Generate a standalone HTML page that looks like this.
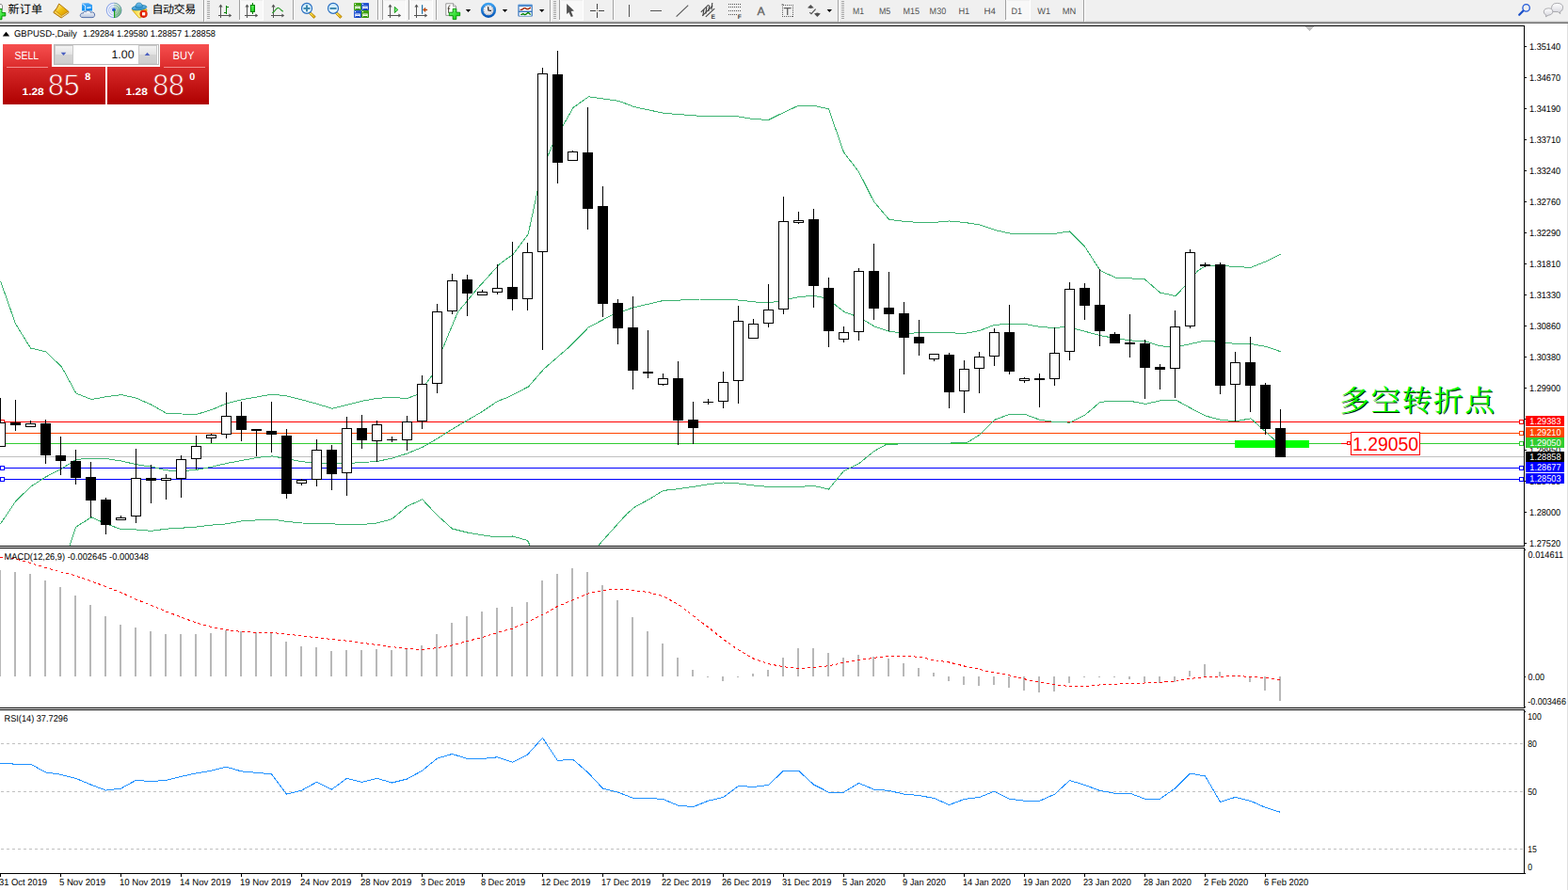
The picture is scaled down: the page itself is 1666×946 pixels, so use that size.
<!DOCTYPE html>
<html><head><meta charset="utf-8"><title>GBPUSD Daily</title>
<style>html,body{margin:0;padding:0;background:#fff;}body{width:1666px;height:946px;overflow:hidden;position:relative;font-family:"Liberation Sans",sans-serif;}svg text{font-family:"Liberation Sans",sans-serif;}</style>
</head><body>
<svg width="1666" height="946" viewBox="0 0 1666 946" font-family="Liberation Sans, sans-serif" style="position:absolute;left:0;top:0;text-rendering:geometricPrecision">
<defs>
<linearGradient id="gTab" x1="0" y1="0" x2="0" y2="1"><stop offset="0" stop-color="#f64f4f"/><stop offset="1" stop-color="#dc2c2c"/></linearGradient>
<linearGradient id="gLow" x1="0" y1="0" x2="0" y2="1"><stop offset="0" stop-color="#d82a2a"/><stop offset="1" stop-color="#ae0000"/></linearGradient>
<linearGradient id="gLowU" gradientUnits="userSpaceOnUse" x1="0" y1="71" x2="0" y2="111"><stop offset="0" stop-color="#d82a2a"/><stop offset="1" stop-color="#ae0000"/></linearGradient>
<linearGradient id="gBtn" x1="0" y1="0" x2="0" y2="1"><stop offset="0" stop-color="#f4f4f4"/><stop offset="0.5" stop-color="#e2e2e2"/><stop offset="0.5" stop-color="#d4d4d4"/><stop offset="1" stop-color="#cfcfcf"/></linearGradient>
</defs>
<rect x="0" y="0" width="1666" height="946" fill="#fff" />
<rect x="0" y="0" width="1666" height="23" fill="#f0f0f0" />
<rect x="0" y="22" width="1666" height="1" fill="#dcdcdc" />
<rect x="0" y="23" width="1666" height="1" fill="#a9a9a9" />
<rect x="0" y="24" width="1666" height="1" fill="#696969" />
<rect x="0" y="25" width="1666" height="2" fill="#fff" />
<defs>
<linearGradient id="gGreen" x1="0" y1="0" x2="1" y2="1"><stop offset="0" stop-color="#7dff7d"/><stop offset="1" stop-color="#00c400"/></linearGradient>
<linearGradient id="gBook" x1="0" y1="0" x2="1" y2="1"><stop offset="0" stop-color="#fff0a0"/><stop offset="0.45" stop-color="#f0c010"/><stop offset="1" stop-color="#d89000"/></linearGradient>
<linearGradient id="gCloud" x1="0" y1="0" x2="0" y2="1"><stop offset="0" stop-color="#ffffff"/><stop offset="1" stop-color="#b8c4dc"/></linearGradient>
<linearGradient id="gBox" x1="0" y1="0" x2="0" y2="1"><stop offset="0" stop-color="#4aa8f8"/><stop offset="1" stop-color="#0a8cf0"/></linearGradient>
<linearGradient id="gSig" x1="0" y1="0" x2="1" y2="1"><stop offset="0" stop-color="#eef6ee"/><stop offset="0.45" stop-color="#b8dcb8"/><stop offset="1" stop-color="#2e9a38"/></linearGradient>
<linearGradient id="gHat" x1="0" y1="0" x2="0" y2="1"><stop offset="0" stop-color="#7cc4ec"/><stop offset="1" stop-color="#2a90d0"/></linearGradient>
<linearGradient id="gYel" x1="0" y1="0" x2="1" y2="0"><stop offset="0" stop-color="#f4c820"/><stop offset="0.5" stop-color="#fff080"/><stop offset="1" stop-color="#f0c020"/></linearGradient>
<radialGradient id="gRed" cx="0.6" cy="0.4" r="0.7"><stop offset="0" stop-color="#ff4010"/><stop offset="1" stop-color="#c81000"/></radialGradient>
<linearGradient id="gLens" x1="0" y1="0" x2="0" y2="1"><stop offset="0" stop-color="#c8e8fc"/><stop offset="1" stop-color="#eefaff"/></linearGradient>
<linearGradient id="gGold" x1="0" y1="0" x2="1" y2="0"><stop offset="0" stop-color="#fff060"/><stop offset="1" stop-color="#d8a000"/></linearGradient>
<linearGradient id="gTG" x1="0" y1="0" x2="1" y2="1"><stop offset="0" stop-color="#4aae18"/><stop offset="1" stop-color="#2e8c08"/></linearGradient>
<linearGradient id="gTB" x1="0" y1="0" x2="1" y2="1"><stop offset="0" stop-color="#3468e0"/><stop offset="1" stop-color="#0c38b8"/></linearGradient>
<linearGradient id="gClock" x1="0" y1="0" x2="0" y2="1"><stop offset="0" stop-color="#3aa0f0"/><stop offset="1" stop-color="#0858b8"/></linearGradient>
<linearGradient id="gFace" x1="0" y1="0" x2="1" y2="1"><stop offset="0" stop-color="#ffffff"/><stop offset="1" stop-color="#d0d0d8"/></linearGradient>
<linearGradient id="gTpl" x1="0" y1="0" x2="0" y2="1"><stop offset="0" stop-color="#6ea6e0"/><stop offset="0.2" stop-color="#3878c0"/><stop offset="1" stop-color="#3070b8"/></linearGradient>
<linearGradient id="gBub" x1="0" y1="0" x2="0" y2="1"><stop offset="0" stop-color="#ffffff"/><stop offset="1" stop-color="#d4d4dc"/></linearGradient>
</defs>
<path d="M-1,4.5 L1.5,4.5 L2.5,6 L2.5,10 L-1,10 Z" fill="#fff" stroke="#8c8c8c" stroke-width="1"/>
<path d="M-1,9.5 L2,9.5 L2,13.5 L5.8,13.5 L5.8,17 L2,17 L2,20.7 L-1,20.7 Z" fill="url(#gGreen)" stroke="#008c00" stroke-width="0.9"/>
<text x="8.6" y="14" font-size="12.1" fill="#000" style="font-family:'Liberation Sans','Noto Sans CJK SC',sans-serif" textLength="36.5" lengthAdjust="spacing">新订单</text>
<path d="M62.7,4 L72.8,12.2 L72.9,13.6 L65.1,19 L56.9,13.4 L57.2,12.4 Q60.6,9 62.7,4 Z" fill="#d8a020" stroke="#a86c00" stroke-width="0.9" stroke-linejoin="round"/>
<path d="M65.4,16.7 L72.3,12.4 L72.5,13.5 L65.2,18.4 Z" fill="#ece0a8"/>
<path d="M59.2,11.5 L65.4,16.7 L65.2,18.3 L57.6,13.2 Z" fill="#f6d050"/>
<path d="M62.9,4.7 L72.2,12.3 L65.4,16.6 L59.3,11.4 Q61.7,8.4 62.9,4.7 Z" fill="url(#gBook)"/>
<path d="M59.3,11.5 L65.4,16.7 L72.2,12.4" stroke="#b87c08" stroke-width="0.6" fill="none"/>
<path d="M87,3.6 L94,3.2 L98,5.2 L98,11.5 L87,11.5 Z" fill="url(#gBox)"/>
<path d="M87.3,4.0 L90.6,6.0 L90.6,11.2" stroke="#e8f6ff" stroke-width="0.9" fill="none"/>
<path d="M92.3,8.4 L96.6,7.9" stroke="#fff" stroke-width="1.1" fill="none"/>
<path d="M88,18.6 C85.4,18.6 84.8,16.6 85.5,15.4 C86,14.2 87.2,13.8 88.4,14.1 C88.5,12.5 90.2,11.9 91.3,12.7 C92.2,10.8 95.8,10.7 96.5,13.4 C97.8,12.5 100.2,13 100.5,15 C101,17 100,18.6 98,18.6 Z" fill="url(#gCloud)" stroke="#4866a4" stroke-width="0.9"/>
<circle cx="121" cy="10.9" r="8" fill="#fbfcff"/>
<path d="M121,10.9 L121,19 A8.1,8.1 0 0 0 129.1,10.9 A8.1,8.1 0 0 0 121,2.8 Z" fill="url(#gSig)" opacity="0.9"/>
<path d="M121,18.6 A7.7,7.7 0 0 1 121,3.2" fill="none" stroke="#3c68d8" stroke-width="1.1" opacity="0.5599999999999999"/>
<path d="M121,3.2 A7.7,7.7 0 0 1 121.6,18.6" fill="none" stroke="#2a6a9a" stroke-width="1" opacity="0.6000000000000001"/>
<path d="M121,16.3 A5.4,5.4 0 0 1 121,5.5" fill="none" stroke="#3c68d8" stroke-width="1.1" opacity="0.42"/>
<path d="M121,5.5 A5.4,5.4 0 0 1 121.6,16.3" fill="none" stroke="#2a6a9a" stroke-width="1" opacity="0.44999999999999996"/>
<path d="M121,14.2 A3.3,3.3 0 0 1 121,7.6000000000000005" fill="none" stroke="#3c68d8" stroke-width="1.1" opacity="0.315"/>
<path d="M121,7.6000000000000005 A3.3,3.3 0 0 1 121.6,14.2" fill="none" stroke="#2a6a9a" stroke-width="1" opacity="0.3375"/>
<circle cx="121" cy="10.6" r="2" fill="#2458d0"/>
<rect x="121" y="11" width="1.2" height="8" fill="#18a018" />
<path d="M140.3,10.5 L155.9,9.8 L155.9,12 L149.6,18.9 L147.6,18.9 Z" fill="url(#gYel)" stroke="#d0a000" stroke-width="0.8" stroke-linejoin="round"/>
<ellipse cx="148" cy="8.2" rx="7.9" ry="2.5" fill="url(#gHat)" stroke="#1878a8" stroke-width="0.8" transform="rotate(-7 148 8.2)"/>
<path d="M144,8 Q144,3 147.7,3 Q151.4,3 151.4,7.6 Q147.7,9.4 144,8 Z" fill="url(#gHat)" stroke="#1878a8" stroke-width="0.7"/>
<circle cx="152.6" cy="14.8" r="4.1" fill="url(#gRed)"/>
<rect x="151" y="13.2" width="3.2" height="3.2" fill="#fff" />
<text x="161.4" y="14.3" font-size="12" fill="#000" style="font-family:'Liberation Sans','Noto Sans CJK SC',sans-serif" textLength="46.8" lengthAdjust="spacing">自动交易</text>
<rect x="216" y="0" width="1" height="24" fill="#a0a0a0" shape-rendering="crispEdges"/>
<rect x="217" y="0" width="1" height="23" fill="#ffffff" shape-rendering="crispEdges"/>
<rect x="220" y="1" width="3" height="1" fill="#a6a6a6" shape-rendering="crispEdges"/>
<rect x="220" y="3" width="3" height="1" fill="#a6a6a6" shape-rendering="crispEdges"/>
<rect x="220" y="5" width="3" height="1" fill="#a6a6a6" shape-rendering="crispEdges"/>
<rect x="220" y="7" width="3" height="1" fill="#a6a6a6" shape-rendering="crispEdges"/>
<rect x="220" y="9" width="3" height="1" fill="#a6a6a6" shape-rendering="crispEdges"/>
<rect x="220" y="11" width="3" height="1" fill="#a6a6a6" shape-rendering="crispEdges"/>
<rect x="220" y="13" width="3" height="1" fill="#a6a6a6" shape-rendering="crispEdges"/>
<rect x="220" y="15" width="3" height="1" fill="#a6a6a6" shape-rendering="crispEdges"/>
<rect x="220" y="17" width="3" height="1" fill="#a6a6a6" shape-rendering="crispEdges"/>
<rect x="220" y="19" width="3" height="1" fill="#a6a6a6" shape-rendering="crispEdges"/>
<g shape-rendering="crispEdges" fill="#555555">
<rect x="234" y="6" width="1" height="13" fill="#555555" />
<rect x="232" y="16" width="13" height="1" fill="#555555" />
</g>
<path d="M234.5,4.6 L236.6,7.4 L232.4,7.4 Z" fill="#555555"/>
<path d="M246.2,16.5 L243.4,14.4 L243.4,18.6 Z" fill="#555555"/>
<g shape-rendering="crispEdges" fill="#008000">
<rect x="240" y="6" width="1" height="9" fill="#008000" />
<rect x="241" y="7" width="2" height="1" fill="#008000" />
<rect x="238" y="13" width="2" height="1" fill="#008000" />
</g>
<rect x="254" y="0" width="1" height="21" fill="#a0a0a0" shape-rendering="crispEdges"/>
<rect x="255" y="0" width="1" height="21" fill="#ffffff" shape-rendering="crispEdges"/>
<rect x="255" y="1" width="24" height="20" fill="#f8f8f8" shape-rendering="crispEdges"/>
<rect x="279" y="0" width="1" height="22" fill="#ffffff" shape-rendering="crispEdges"/>
<rect x="254" y="21" width="26" height="1" fill="#ffffff" shape-rendering="crispEdges"/>
<g shape-rendering="crispEdges" fill="#555555">
<rect x="262" y="6" width="1" height="13" fill="#555555" />
<rect x="260" y="16" width="13" height="1" fill="#555555" />
</g>
<path d="M262.5,4.6 L264.6,7.4 L260.4,7.4 Z" fill="#555555"/>
<path d="M274.2,16.5 L271.4,14.4 L271.4,18.6 Z" fill="#555555"/>
<g shape-rendering="crispEdges">
<rect x="268" y="3" width="1" height="12" fill="#008000" />
</g>
<rect x="266.5" y="5.5" width="4" height="7" fill="url(#gGreen)" stroke="#008000" stroke-width="1" shape-rendering="crispEdges"/>
<g shape-rendering="crispEdges" fill="#555555">
<rect x="290" y="6" width="1" height="13" fill="#555555" />
<rect x="288" y="16" width="13" height="1" fill="#555555" />
</g>
<path d="M290.5,4.6 L292.6,7.4 L288.4,7.4 Z" fill="#555555"/>
<path d="M302.2,16.5 L299.4,14.4 L299.4,18.6 Z" fill="#555555"/>
<path d="M289.2,13.7 Q291.5,12.5 293,10.2 Q294.8,8.0 296,8.5 Q297.5,9.2 298.8,10.8 Q300,11.9 300.8,12.1" fill="none" stroke="#2e9e2e" stroke-width="1.2"/>
<rect x="311" y="0" width="1" height="21" fill="#a0a0a0" shape-rendering="crispEdges"/>
<rect x="312" y="0" width="1" height="21" fill="#ffffff" shape-rendering="crispEdges"/>
<path d="M330.2,13.0 L335.2,17.6 L333.4,19.4 L328.6,14.6 Z" fill="url(#gGold)" stroke="#b07800" stroke-width="0.8"/>
<circle cx="326" cy="8.9" r="5.5" fill="url(#gLens)" stroke="#2a6fc0" stroke-width="1.2"/>
<rect x="322.5" y="8" width="7" height="1.9" fill="#3a86ad"/>
<rect x="325.05" y="5.4" width="1.9" height="7" fill="#3a86ad"/>
<path d="M358.2,13.0 L363.2,17.6 L361.4,19.4 L356.6,14.6 Z" fill="url(#gGold)" stroke="#b07800" stroke-width="0.8"/>
<circle cx="354" cy="8.9" r="5.5" fill="url(#gLens)" stroke="#2a6fc0" stroke-width="1.2"/>
<rect x="350.5" y="8" width="7" height="1.9" fill="#3a86ad"/>
<rect x="376" y="3" width="8" height="8" rx="0.8" fill="url(#gTG)"/>
<rect x="377" y="4" width="1" height="1" fill="#fff" />
<path d="M377.3,9.8 L377.3,6.4 L382.7,6.4 L382.7,9.8 L382,9.8 L382,9 L378,9 L378,9.8 Z" fill="#fff"/>
<rect x="378.3" y="7.3" width="3.4" height="0.8" fill="#8cd060" />
<rect x="384" y="3" width="8" height="8" rx="0.8" fill="url(#gTB)"/>
<rect x="385" y="4" width="1" height="1" fill="#fff" />
<path d="M385.3,9.8 L385.3,6.4 L390.7,6.4 L390.7,9.8 L390,9.8 L390,9 L386,9 L386,9.8 Z" fill="#fff"/>
<rect x="386.3" y="7.3" width="3.4" height="0.8" fill="#6c90f0" />
<rect x="376" y="11" width="8" height="8" rx="0.8" fill="url(#gTB)"/>
<rect x="377" y="12" width="1" height="1" fill="#fff" />
<path d="M377.3,17.8 L377.3,14.4 L382.7,14.4 L382.7,17.8 L382,17.8 L382,17 L378,17 L378,17.8 Z" fill="#fff"/>
<rect x="378.3" y="15.3" width="3.4" height="0.8" fill="#6c90f0" />
<rect x="384" y="11" width="8" height="8" rx="0.8" fill="url(#gTG)"/>
<rect x="385" y="12" width="1" height="1" fill="#fff" />
<path d="M385.3,17.8 L385.3,14.4 L390.7,14.4 L390.7,17.8 L390,17.8 L390,17 L386,17 L386,17.8 Z" fill="#fff"/>
<rect x="386.3" y="15.3" width="3.4" height="0.8" fill="#8cd060" />
<rect x="401" y="0" width="1" height="21" fill="#a0a0a0" shape-rendering="crispEdges"/>
<rect x="402" y="0" width="1" height="21" fill="#ffffff" shape-rendering="crispEdges"/>
<rect x="406" y="0" width="1" height="21" fill="#a0a0a0" shape-rendering="crispEdges"/>
<rect x="407" y="0" width="1" height="21" fill="#ffffff" shape-rendering="crispEdges"/>
<rect x="407" y="1" width="24" height="20" fill="#f8f8f8" shape-rendering="crispEdges"/>
<rect x="431" y="0" width="1" height="22" fill="#ffffff" shape-rendering="crispEdges"/>
<rect x="406" y="21" width="26" height="1" fill="#ffffff" shape-rendering="crispEdges"/>
<g shape-rendering="crispEdges" fill="#555555">
<rect x="414" y="6" width="1" height="13" fill="#555555" />
<rect x="412" y="16" width="13" height="1" fill="#555555" />
</g>
<path d="M414.5,4.6 L416.6,7.4 L412.4,7.4 Z" fill="#555555"/>
<path d="M426.2,16.5 L423.4,14.4 L423.4,18.6 Z" fill="#555555"/>
<path d="M419.3,7.3 L419.3,13.6 L422.8,10.45 Z" fill="#70f070" stroke="#109010" stroke-width="0.9" stroke-linejoin="round"/>
<rect x="434" y="0" width="1" height="21" fill="#a0a0a0" shape-rendering="crispEdges"/>
<rect x="435" y="0" width="1" height="21" fill="#ffffff" shape-rendering="crispEdges"/>
<rect x="435" y="1" width="24" height="20" fill="#f8f8f8" shape-rendering="crispEdges"/>
<rect x="459" y="0" width="1" height="22" fill="#ffffff" shape-rendering="crispEdges"/>
<rect x="434" y="21" width="26" height="1" fill="#ffffff" shape-rendering="crispEdges"/>
<g shape-rendering="crispEdges" fill="#555555">
<rect x="442" y="6" width="1" height="13" fill="#555555" />
<rect x="440" y="16" width="13" height="1" fill="#555555" />
</g>
<path d="M442.5,4.6 L444.6,7.4 L440.4,7.4 Z" fill="#555555"/>
<path d="M454.2,16.5 L451.4,14.4 L451.4,18.6 Z" fill="#555555"/>
<rect x="448" y="5.2" width="1.2" height="9.6" fill="#1c6ea4"/>
<path d="M449.4,10.4 L452,8.3 L451.6,10 L453.8,10 L453.8,10.9 L451.6,10.9 L452,12.6 Z" fill="#e85800" stroke="#8a2800" stroke-width="0.5"/>
<rect x="463" y="0" width="1" height="21" fill="#a0a0a0" shape-rendering="crispEdges"/>
<rect x="464" y="0" width="1" height="21" fill="#ffffff" shape-rendering="crispEdges"/>
<path d="M473.8,3.8 L481.5,3.8 L484.6,6.8 L484.6,16.4 L473.8,16.4 Z" fill="#fff" stroke="#8c8c8c" stroke-width="0.9" stroke-linejoin="round"/>
<path d="M481.5,3.8 L481.5,6.8 L484.6,6.8" fill="#e8e8e8" stroke="#8c8c8c" stroke-width="0.8"/>
<path d="M478.4,6 Q476.6,5.8 476.6,7.6 L476.6,13.8 M475.6,9 L478.2,9" fill="none" stroke="#3a3428" stroke-width="0.9"/>
<path d="M481.2,9.3 L484.8,9.3 L484.8,13.2 L488.7,13.2 L488.7,16.7 L484.8,16.7 L484.8,20.6 L481.2,20.6 L481.2,16.7 L477.3,16.7 L477.3,13.2 L481.2,13.2 Z" fill="url(#gGreen)" stroke="#008c00" stroke-width="0.9"/>
<path d="M494.8,10 L500.2,10 L497.5,13 Z" fill="#000"/>
<circle cx="519" cy="10.8" r="6.8" fill="url(#gFace)" stroke="url(#gClock)" stroke-width="2.6"/>
<path d="M518.6,7.2 L519,11 L522,11.4" fill="none" stroke="#181818" stroke-width="1.2"/>
<circle cx="519" cy="10.8" r="4.9" fill="none" stroke="#55555c" stroke-width="0.9" stroke-dasharray="0.6,1.966"/>
<path d="M533.8,10 L539.1999999999999,10 L536.5,13 Z" fill="#000"/>
<rect x="550.4" y="4.4" width="15.4" height="13.2" rx="0.8" fill="url(#gTpl)"/>
<rect x="551.6" y="7" width="13" height="4.6" fill="#fff" />
<rect x="551.6" y="13" width="13" height="3.8" fill="#fff" />
<path d="M552.6,10.4 L554.4,10.4 L556.8,8.6 L558.2,8.6 L559.6,9.6 L561.4,9.6 L563,8.4 L564,8.4" fill="none" stroke="#a02000" stroke-width="1.4"/>
<path d="M553.2,15.4 L554.6,15.4 L555.8,14.6 L557.4,15.5 L558.6,15.4 L561,13.5 L562.2,14 L563.6,15.6" fill="none" stroke="#008000" stroke-width="1.4"/>
<path d="M573,10 L578.4,10 L575.7,13 Z" fill="#000"/>
<rect x="584" y="0" width="1" height="24" fill="#a0a0a0" shape-rendering="crispEdges"/>
<rect x="585" y="0" width="1" height="23" fill="#ffffff" shape-rendering="crispEdges"/>
<rect x="588" y="1" width="3" height="1" fill="#a6a6a6" shape-rendering="crispEdges"/>
<rect x="588" y="3" width="3" height="1" fill="#a6a6a6" shape-rendering="crispEdges"/>
<rect x="588" y="5" width="3" height="1" fill="#a6a6a6" shape-rendering="crispEdges"/>
<rect x="588" y="7" width="3" height="1" fill="#a6a6a6" shape-rendering="crispEdges"/>
<rect x="588" y="9" width="3" height="1" fill="#a6a6a6" shape-rendering="crispEdges"/>
<rect x="588" y="11" width="3" height="1" fill="#a6a6a6" shape-rendering="crispEdges"/>
<rect x="588" y="13" width="3" height="1" fill="#a6a6a6" shape-rendering="crispEdges"/>
<rect x="588" y="15" width="3" height="1" fill="#a6a6a6" shape-rendering="crispEdges"/>
<rect x="588" y="17" width="3" height="1" fill="#a6a6a6" shape-rendering="crispEdges"/>
<rect x="588" y="19" width="3" height="1" fill="#a6a6a6" shape-rendering="crispEdges"/>
<rect x="594" y="0" width="1" height="21" fill="#a0a0a0" shape-rendering="crispEdges"/>
<rect x="595" y="0" width="1" height="21" fill="#ffffff" shape-rendering="crispEdges"/>
<rect x="595" y="1" width="24" height="20" fill="#f8f8f8" shape-rendering="crispEdges"/>
<rect x="619" y="0" width="1" height="22" fill="#ffffff" shape-rendering="crispEdges"/>
<rect x="594" y="21" width="26" height="1" fill="#ffffff" shape-rendering="crispEdges"/>
<path d="M602.1,3.9 L602.1,15 L604.4,13 L606.8,18 L608.9,17.2 L606.7,12 L610,11.5 Z" fill="#505050"/>
<g shape-rendering="crispEdges" fill="#444">
<rect x="634" y="4" width="1" height="6" fill="#444" />
<rect x="634" y="13" width="1" height="6" fill="#444" />
<rect x="627" y="11" width="6" height="1" fill="#444" />
<rect x="636" y="11" width="6" height="1" fill="#444" />
<rect x="634" y="11" width="1" height="1" fill="#807050" />
</g>
<rect x="651" y="0" width="1" height="21" fill="#a0a0a0" shape-rendering="crispEdges"/>
<rect x="652" y="0" width="1" height="21" fill="#ffffff" shape-rendering="crispEdges"/>
<rect x="668" y="5" width="1" height="13" fill="#555" shape-rendering="crispEdges"/>
<rect x="691" y="11" width="12" height="1" fill="#555" shape-rendering="crispEdges"/>
<path d="M718.6,17.6 L731.2,5.7" stroke="#555" stroke-width="1.1" fill="none"/>
<path d="M744.8,12.8 L752.8,5.2 M746.2,16.8 L757.2,6.2 M749.8,17.8 L759.2,9.2" stroke="#454545" stroke-width="1.15" fill="none"/>
<path d="M747.8,10 L747,16.4 M750.8,7.6 L749.8,14.6 M753.8,5.6 L752.8,12.2 M756.8,3 L756,10.4" stroke="#454545" stroke-width="1.15" fill="none"/>
<text x="755.6" y="19.8" font-size="6.6" font-weight="bold" fill="#404040">E</text>
<rect x="774" y="4" width="1" height="1" fill="#555" shape-rendering="crispEdges"/>
<rect x="776" y="4" width="1" height="1" fill="#555" shape-rendering="crispEdges"/>
<rect x="778" y="4" width="1" height="1" fill="#555" shape-rendering="crispEdges"/>
<rect x="780" y="4" width="1" height="1" fill="#555" shape-rendering="crispEdges"/>
<rect x="782" y="4" width="1" height="1" fill="#555" shape-rendering="crispEdges"/>
<rect x="784" y="4" width="1" height="1" fill="#555" shape-rendering="crispEdges"/>
<rect x="786" y="4" width="1" height="1" fill="#555" shape-rendering="crispEdges"/>
<rect x="774" y="7" width="1" height="1" fill="#555" shape-rendering="crispEdges"/>
<rect x="776" y="7" width="1" height="1" fill="#555" shape-rendering="crispEdges"/>
<rect x="778" y="7" width="1" height="1" fill="#555" shape-rendering="crispEdges"/>
<rect x="780" y="7" width="1" height="1" fill="#555" shape-rendering="crispEdges"/>
<rect x="782" y="7" width="1" height="1" fill="#555" shape-rendering="crispEdges"/>
<rect x="784" y="7" width="1" height="1" fill="#555" shape-rendering="crispEdges"/>
<rect x="786" y="7" width="1" height="1" fill="#555" shape-rendering="crispEdges"/>
<rect x="774" y="11" width="1" height="1" fill="#555" shape-rendering="crispEdges"/>
<rect x="776" y="11" width="1" height="1" fill="#555" shape-rendering="crispEdges"/>
<rect x="778" y="11" width="1" height="1" fill="#555" shape-rendering="crispEdges"/>
<rect x="780" y="11" width="1" height="1" fill="#555" shape-rendering="crispEdges"/>
<rect x="782" y="11" width="1" height="1" fill="#555" shape-rendering="crispEdges"/>
<rect x="784" y="11" width="1" height="1" fill="#555" shape-rendering="crispEdges"/>
<rect x="786" y="11" width="1" height="1" fill="#555" shape-rendering="crispEdges"/>
<rect x="774" y="15" width="1" height="1" fill="#555" shape-rendering="crispEdges"/>
<rect x="776" y="15" width="1" height="1" fill="#555" shape-rendering="crispEdges"/>
<rect x="778" y="15" width="1" height="1" fill="#555" shape-rendering="crispEdges"/>
<rect x="780" y="15" width="1" height="1" fill="#555" shape-rendering="crispEdges"/>
<rect x="782" y="15" width="1" height="1" fill="#555" shape-rendering="crispEdges"/>
<text x="783.8" y="19.8" font-size="6.6" font-weight="bold" fill="#404040">F</text>
<text x="804.4" y="15.9" font-size="12.2" fill="#606060" stroke="#606060" stroke-width="0.3">A</text>
<rect x="831.5" y="5.5" width="11" height="12" fill="none" stroke="#606060" stroke-width="1" stroke-dasharray="1,1" shape-rendering="crispEdges"/>
<rect x="830.6" y="4.4" width="1.8" height="1.2" fill="#505050" />
<path d="M832.8,8.6 L840.6,8.6 M836.7,8.6 L836.7,15.9" stroke="#606060" stroke-width="1.3" fill="none"/>
<path d="M861.3,4.9 L864.7,8.2 L861.3,9 L858,8.2 Z" fill="#505050"/>
<path d="M860.2,13.2 L862,14.7 L866.6,9.6" stroke="#505050" stroke-width="1.1" fill="none"/>
<path d="M865,14.4 L868.4,13.4 L871.8,14.4 L868.4,17.9 Z" fill="#505050"/>
<path d="M878.6,10 L884.0,10 L881.3000000000001,13 Z" fill="#000"/>
<rect x="890" y="0" width="1" height="24" fill="#a0a0a0" shape-rendering="crispEdges"/>
<rect x="891" y="0" width="1" height="23" fill="#ffffff" shape-rendering="crispEdges"/>
<rect x="894" y="1" width="3" height="1" fill="#a6a6a6" shape-rendering="crispEdges"/>
<rect x="894" y="3" width="3" height="1" fill="#a6a6a6" shape-rendering="crispEdges"/>
<rect x="894" y="5" width="3" height="1" fill="#a6a6a6" shape-rendering="crispEdges"/>
<rect x="894" y="7" width="3" height="1" fill="#a6a6a6" shape-rendering="crispEdges"/>
<rect x="894" y="9" width="3" height="1" fill="#a6a6a6" shape-rendering="crispEdges"/>
<rect x="894" y="11" width="3" height="1" fill="#a6a6a6" shape-rendering="crispEdges"/>
<rect x="894" y="13" width="3" height="1" fill="#a6a6a6" shape-rendering="crispEdges"/>
<rect x="894" y="15" width="3" height="1" fill="#a6a6a6" shape-rendering="crispEdges"/>
<rect x="894" y="17" width="3" height="1" fill="#a6a6a6" shape-rendering="crispEdges"/>
<rect x="894" y="19" width="3" height="1" fill="#a6a6a6" shape-rendering="crispEdges"/>
<text x="906" y="14.9" font-size="9.5" fill="#505050" textLength="12" lengthAdjust="spacingAndGlyphs">M1</text>
<text x="934" y="14.9" font-size="9.5" fill="#505050" textLength="12.3" lengthAdjust="spacingAndGlyphs">M5</text>
<text x="959.5" y="14.9" font-size="9.5" fill="#505050" textLength="17.5" lengthAdjust="spacingAndGlyphs">M15</text>
<text x="987.6" y="14.9" font-size="9.5" fill="#505050" textLength="17.6" lengthAdjust="spacingAndGlyphs">M30</text>
<text x="1018.4" y="14.9" font-size="9.5" fill="#505050" textLength="11.8" lengthAdjust="spacingAndGlyphs">H1</text>
<text x="1045.5" y="14.9" font-size="9.5" fill="#505050" textLength="12.4" lengthAdjust="spacingAndGlyphs">H4</text>
<rect x="1068" y="0" width="1" height="21" fill="#a0a0a0" shape-rendering="crispEdges"/>
<rect x="1069" y="0" width="1" height="21" fill="#ffffff" shape-rendering="crispEdges"/>
<rect x="1069" y="1" width="25" height="20" fill="#f8f8f8" shape-rendering="crispEdges"/>
<rect x="1094" y="0" width="1" height="22" fill="#ffffff" shape-rendering="crispEdges"/>
<rect x="1068" y="21" width="27" height="1" fill="#ffffff" shape-rendering="crispEdges"/>
<text x="1074.5" y="14.9" font-size="9.5" fill="#505050" textLength="11.4" lengthAdjust="spacingAndGlyphs">D1</text>
<text x="1102.3" y="14.9" font-size="9.5" fill="#505050" textLength="13.8" lengthAdjust="spacingAndGlyphs">W1</text>
<text x="1128.7" y="14.9" font-size="9.5" fill="#505050" textLength="14.5" lengthAdjust="spacingAndGlyphs">MN</text>
<rect x="1151" y="0" width="1" height="24" fill="#a0a0a0" shape-rendering="crispEdges"/>
<rect x="1152" y="0" width="1" height="23" fill="#ffffff" shape-rendering="crispEdges"/>
<path d="M1618.4,11.4 L1614.2,15.8" stroke="#1c50c8" stroke-width="2.2" stroke-linecap="round" fill="none"/>
<circle cx="1621.6" cy="8.4" r="3.7" fill="none" stroke="#2058d8" stroke-width="1.3"/>
<path d="M1648.5,12.4 Q1647.2,3.4 1654.2,3.4 Q1660.8,3.4 1660.6,8.2 Q1660.4,11.8 1657.6,12.4 L1657.8,14.6 L1655.4,12.6 Z" fill="url(#gBub)" stroke="#9a9aa0" stroke-width="0.8"/>
<path d="M1642.8,16 Q1639.8,14.6 1640.2,12 Q1640.8,8.6 1645.2,8.8 Q1649.8,9 1649.8,12.4 Q1649.6,15.6 1645.2,16.2 L1642.4,17.8 Z" fill="url(#gBub)" stroke="#9a9aa0" stroke-width="0.8"/>
<rect x="1665" y="25" width="1" height="921" fill="#e0e0e0" />
<g shape-rendering="crispEdges">
<rect x="0" y="27" width="1620" height="1" fill="#000" />
<rect x="1619" y="27" width="1" height="902" fill="#000" />
<rect x="0" y="580" width="1620" height="1" fill="#000" />
<rect x="0" y="582" width="1620" height="1" fill="#000" />
<rect x="0" y="752" width="1620" height="1" fill="#000" />
<rect x="0" y="754" width="1620" height="1" fill="#000" />
<rect x="0" y="928" width="1621" height="1" fill="#000" />
<rect x="1620" y="584" width="1" height="1" fill="#000" />
<rect x="1620" y="719" width="1" height="1" fill="#000" />
<rect x="1620" y="751" width="1" height="1" fill="#000" />
<rect x="1620" y="756" width="1" height="1" fill="#000" />
<rect x="1619" y="581" width="1" height="1" fill="#fff" />
<rect x="1619" y="753" width="1" height="1" fill="#fff" />
</g>
<rect x="1620" y="49" width="2" height="1" fill="#000" shape-rendering="crispEdges"/>
<text x="1625" y="53.0" font-size="9.9" fill="#000" text-anchor="start" font-weight="normal" textLength="33.2" lengthAdjust="spacingAndGlyphs" >1.35140</text>
<rect x="1620" y="82" width="2" height="1" fill="#000" shape-rendering="crispEdges"/>
<text x="1625" y="86.0" font-size="9.9" fill="#000" text-anchor="start" font-weight="normal" textLength="33.2" lengthAdjust="spacingAndGlyphs" >1.34670</text>
<rect x="1620" y="115" width="2" height="1" fill="#000" shape-rendering="crispEdges"/>
<text x="1625" y="119.0" font-size="9.9" fill="#000" text-anchor="start" font-weight="normal" textLength="33.2" lengthAdjust="spacingAndGlyphs" >1.34190</text>
<rect x="1620" y="148" width="2" height="1" fill="#000" shape-rendering="crispEdges"/>
<text x="1625" y="152.0" font-size="9.9" fill="#000" text-anchor="start" font-weight="normal" textLength="33.2" lengthAdjust="spacingAndGlyphs" >1.33710</text>
<rect x="1620" y="181" width="2" height="1" fill="#000" shape-rendering="crispEdges"/>
<text x="1625" y="185.0" font-size="9.9" fill="#000" text-anchor="start" font-weight="normal" textLength="33.2" lengthAdjust="spacingAndGlyphs" >1.33240</text>
<rect x="1620" y="214" width="2" height="1" fill="#000" shape-rendering="crispEdges"/>
<text x="1625" y="218.0" font-size="9.9" fill="#000" text-anchor="start" font-weight="normal" textLength="33.2" lengthAdjust="spacingAndGlyphs" >1.32760</text>
<rect x="1620" y="247" width="2" height="1" fill="#000" shape-rendering="crispEdges"/>
<text x="1625" y="251.0" font-size="9.9" fill="#000" text-anchor="start" font-weight="normal" textLength="33.2" lengthAdjust="spacingAndGlyphs" >1.32290</text>
<rect x="1620" y="280" width="2" height="1" fill="#000" shape-rendering="crispEdges"/>
<text x="1625" y="284.0" font-size="9.9" fill="#000" text-anchor="start" font-weight="normal" textLength="33.2" lengthAdjust="spacingAndGlyphs" >1.31810</text>
<rect x="1620" y="313" width="2" height="1" fill="#000" shape-rendering="crispEdges"/>
<text x="1625" y="317.0" font-size="9.9" fill="#000" text-anchor="start" font-weight="normal" textLength="33.2" lengthAdjust="spacingAndGlyphs" >1.31330</text>
<rect x="1620" y="346" width="2" height="1" fill="#000" shape-rendering="crispEdges"/>
<text x="1625" y="350.0" font-size="9.9" fill="#000" text-anchor="start" font-weight="normal" textLength="33.2" lengthAdjust="spacingAndGlyphs" >1.30860</text>
<rect x="1620" y="379" width="2" height="1" fill="#000" shape-rendering="crispEdges"/>
<text x="1625" y="383.0" font-size="9.9" fill="#000" text-anchor="start" font-weight="normal" textLength="33.2" lengthAdjust="spacingAndGlyphs" >1.30380</text>
<rect x="1620" y="412" width="2" height="1" fill="#000" shape-rendering="crispEdges"/>
<text x="1625" y="416.0" font-size="9.9" fill="#000" text-anchor="start" font-weight="normal" textLength="33.2" lengthAdjust="spacingAndGlyphs" >1.29900</text>
<rect x="1620" y="445" width="2" height="1" fill="#000" shape-rendering="crispEdges"/>
<text x="1625" y="449.0" font-size="9.9" fill="#000" text-anchor="start" font-weight="normal" textLength="33.2" lengthAdjust="spacingAndGlyphs" >1.29430</text>
<rect x="1620" y="478" width="2" height="1" fill="#000" shape-rendering="crispEdges"/>
<text x="1625" y="482.0" font-size="9.9" fill="#000" text-anchor="start" font-weight="normal" textLength="33.2" lengthAdjust="spacingAndGlyphs" >1.28950</text>
<rect x="1620" y="511" width="2" height="1" fill="#000" shape-rendering="crispEdges"/>
<text x="1625" y="515.0" font-size="9.9" fill="#000" text-anchor="start" font-weight="normal" textLength="33.2" lengthAdjust="spacingAndGlyphs" >1.28480</text>
<rect x="1620" y="544" width="2" height="1" fill="#000" shape-rendering="crispEdges"/>
<text x="1625" y="548.0" font-size="9.9" fill="#000" text-anchor="start" font-weight="normal" textLength="33.2" lengthAdjust="spacingAndGlyphs" >1.28000</text>
<rect x="1620" y="577" width="2" height="1" fill="#000" shape-rendering="crispEdges"/>
<text x="1625" y="581.0" font-size="9.9" fill="#000" text-anchor="start" font-weight="normal" textLength="33.2" lengthAdjust="spacingAndGlyphs" >1.27520</text>
<g shape-rendering="crispEdges">
<rect x="0" y="448" width="1619" height="1" fill="#ff0000" />
<rect x="0" y="460" width="1619" height="1" fill="#ff4500" />
<rect x="0" y="471" width="1619" height="1" fill="#32cd32" />
<rect x="0" y="485" width="1619" height="1" fill="#c0c0c0" />
<rect x="0" y="497" width="1619" height="1" fill="#0000ff" />
<rect x="0" y="509" width="1619" height="1" fill="#0000ff" />
</g>
<polyline points="0.5,298.6 16.5,344.2 32.5,370.0 48.5,373.8 65.5,389.9 80.8,418.0 97.1,424.5 113.0,421.7 128.9,419.6 144.9,423.2 161.1,430.3 177.1,439.5 193.0,440.0 209.0,440.4 224.9,435.5 240.8,428.8 256.8,424.8 273.0,422.0 289.0,419.0 304.9,421.0 320.9,425.0 337.1,429.4 353.1,434.3 369.0,430.3 384.9,426.3 400.5,423.3 416.5,422.4 432.5,423.5 443.5,419.4 459.5,398.7 470.3,370.6 486.3,332.0 507.0,307.0 530.5,281.0 545.5,270.0 561.2,249.0 571.5,201.0 582.5,164.7 586.9,154.3 598.2,133.6 609.1,114.3 625.5,102.8 658.0,107.5 674.2,113.7 705.3,120.3 746.5,123.5 780.5,123.3 799.1,126.4 816.5,127.5 832.5,119.6 848.5,112.2 864.5,112.2 880.5,115.9 896.5,161.9 912.5,182.7 928.5,214.3 944.5,233.2 960.5,235.4 976.5,236.4 992.5,236.4 1008.5,235.0 1024.8,236.4 1040.9,239.0 1058.0,244.7 1072.8,248.0 1123.1,248.0 1136.5,245.9 1152.5,262.0 1169.0,287.7 1185.2,295.0 1200.5,295.8 1216.5,297.0 1232.5,311.0 1249.0,314.6 1259.5,303.6 1273.0,287.4 1281.0,283.0 1297.0,282.3 1313.0,283.5 1328.9,284.4 1344.9,277.9 1360.9,269.9" fill="none" stroke="#3cb371" stroke-width="1" shape-rendering="crispEdges" />
<polyline points="0.5,556.9 16.5,533.0 32.5,517.4 48.5,507.0 64.5,498.8 80.8,488.5 97.1,487.0 113.0,487.6 128.9,490.0 144.9,493.7 161.1,496.2 177.1,499.9 193.0,500.8 209.0,499.3 224.9,496.2 240.8,492.5 256.8,489.5 273.0,486.4 289.0,484.9 304.9,487.6 320.9,490.7 337.1,492.2 353.1,493.1 369.0,492.5 384.9,491.5 400.5,490.5 416.5,487.1 432.5,482.1 448.7,475.4 464.5,466.3 480.5,456.2 496.5,446.8 512.5,437.4 528.5,426.5 539.5,422.4 561.5,411.0 578.1,392.0 604.5,369.0 625.5,347.8 652.0,334.0 672.5,327.0 702.5,320.0 743.5,318.0 773.5,318.0 794.1,320.0 800.5,320.8 816.8,322.0 832.8,319.0 849.0,315.5 865.0,314.3 876.0,316.7 886.3,323.2 897.0,331.5 913.0,337.4 928.9,346.9 944.9,352.2 960.9,354.3 992.9,353.4 1025.5,354.3 1040.5,351.6 1056.5,345.4 1072.5,344.2 1089.0,344.5 1105.0,347.4 1121.0,348.6 1132.0,347.4 1143.5,349.8 1169.0,356.6 1184.9,359.6 1200.9,361.9 1216.8,362.8 1232.8,367.8 1249.0,369.0 1265.0,365.5 1281.0,362.0 1297.0,363.7 1313.0,365.5 1328.9,365.5 1344.9,368.4 1360.9,373.8" fill="none" stroke="#3cb371" stroke-width="1" shape-rendering="crispEdges" />
<polyline points="74.1,579.6 80.8,560.0 97.1,549.8 113.0,556.9 128.9,562.7 144.9,563.0 161.1,564.3 177.1,562.1 193.0,561.2 209.0,560.0 224.9,558.1 240.8,556.9 256.8,553.8 273.0,552.9 289.0,552.0 304.9,554.4 320.9,556.0 337.1,556.3 353.1,556.9 369.0,557.5 384.5,557.5 400.5,556.0 416.5,551.7 432.5,538.2 448.7,530.8 464.5,547.6 480.5,562.0 496.5,566.0 512.5,568.8 528.5,571.0 544.5,570.0 560.5,574.5 563.0,579.6" fill="none" stroke="#3cb371" stroke-width="1" shape-rendering="crispEdges" />
<polyline points="636.0,579.6 649.5,564.5 666.2,546.0 674.5,539.0 689.5,530.8 704.9,521.4 720.5,519.7 736.5,517.4 752.5,514.7 768.5,513.0 784.9,514.0 800.5,516.0 816.8,517.4 832.5,517.4 848.5,517.4 864.5,516.4 880.5,520.0 896.5,500.6 912.5,492.9 928.5,479.7 940.5,473.0 960.5,471.5 1000.5,471.5 1028.4,470.0 1041.5,461.7 1056.8,446.3 1072.5,440.4 1089.0,440.4 1105.0,446.3 1117.2,448.0 1137.0,449.2 1153.0,441.0 1169.0,427.3 1184.9,426.2 1200.9,426.3 1216.8,429.4 1232.8,425.9 1249.0,425.0 1265.0,433.8 1281.0,442.1 1297.0,446.3 1313.0,447.8 1328.9,444.8 1344.9,459.0 1354.5,467.9 1360.9,471.4" fill="none" stroke="#3cb371" stroke-width="1" shape-rendering="crispEdges" />
<rect x="1312" y="468" width="79" height="8" fill="#00ff00" shape-rendering="crispEdges"/>
<g shape-rendering="crispEdges">
<rect x="0.5" y="446.5" width="4" height="4" fill="#fff" stroke="#ff0000" stroke-width="1"/>
<rect x="1614.5" y="446.5" width="4" height="4" fill="#fff" stroke="#ff0000" stroke-width="1"/>
<rect x="0.5" y="458.5" width="4" height="4" fill="#fff" stroke="#ff4500" stroke-width="1"/>
<rect x="1614.5" y="458.5" width="4" height="4" fill="#fff" stroke="#ff4500" stroke-width="1"/>
<rect x="0.5" y="469.5" width="4" height="4" fill="#fff" stroke="#32cd32" stroke-width="1"/>
<rect x="1614.5" y="469.5" width="4" height="4" fill="#fff" stroke="#32cd32" stroke-width="1"/>
<rect x="0.5" y="495.5" width="4" height="4" fill="#fff" stroke="#0000ff" stroke-width="1"/>
<rect x="1614.5" y="495.5" width="4" height="4" fill="#fff" stroke="#0000ff" stroke-width="1"/>
<rect x="0.5" y="507.5" width="4" height="4" fill="#fff" stroke="#0000ff" stroke-width="1"/>
<rect x="1614.5" y="507.5" width="4" height="4" fill="#fff" stroke="#0000ff" stroke-width="1"/>
</g>
<g shape-rendering="crispEdges">
<rect x="0" y="423" width="1" height="52" fill="#000" />
<rect x="-5" y="449" width="11" height="26" fill="#000" />
<rect x="-4" y="450" width="9" height="24" fill="#fff" />
<rect x="16" y="425" width="1" height="33" fill="#000" />
<rect x="11" y="449" width="11" height="3" fill="#000" />
<rect x="32" y="447" width="1" height="7" fill="#000" />
<rect x="27" y="450" width="11" height="4" fill="#000" />
<rect x="28" y="451" width="9" height="2" fill="#fff" />
<rect x="48" y="446" width="1" height="47" fill="#000" />
<rect x="43" y="450" width="11" height="34" fill="#000" />
<rect x="64" y="464" width="1" height="41" fill="#000" />
<rect x="59" y="484" width="11" height="6" fill="#000" />
<rect x="80" y="478" width="1" height="37" fill="#000" />
<rect x="75" y="490" width="11" height="18" fill="#000" />
<rect x="96" y="491" width="1" height="59" fill="#000" />
<rect x="91" y="507" width="11" height="25" fill="#000" />
<rect x="112" y="529" width="1" height="39" fill="#000" />
<rect x="107" y="531" width="11" height="27" fill="#000" />
<rect x="128" y="548" width="1" height="5" fill="#000" />
<rect x="123" y="550" width="11" height="3" fill="#000" />
<rect x="124" y="551" width="9" height="1" fill="#fff" />
<rect x="144" y="477" width="1" height="79" fill="#000" />
<rect x="139" y="508" width="11" height="41" fill="#000" />
<rect x="140" y="509" width="9" height="39" fill="#fff" />
<rect x="160" y="494" width="1" height="41" fill="#000" />
<rect x="155" y="508" width="11" height="3" fill="#000" />
<rect x="176" y="504" width="1" height="27" fill="#000" />
<rect x="171" y="508" width="11" height="3" fill="#000" />
<rect x="172" y="509" width="9" height="1" fill="#fff" />
<rect x="192" y="484" width="1" height="45" fill="#000" />
<rect x="187" y="488" width="11" height="21" fill="#000" />
<rect x="188" y="489" width="9" height="19" fill="#fff" />
<rect x="208" y="463" width="1" height="36" fill="#000" />
<rect x="203" y="474" width="11" height="14" fill="#000" />
<rect x="204" y="475" width="9" height="12" fill="#fff" />
<rect x="224" y="461" width="1" height="10" fill="#000" />
<rect x="219" y="462" width="11" height="4" fill="#000" />
<rect x="220" y="463" width="9" height="2" fill="#fff" />
<rect x="240" y="417" width="1" height="49" fill="#000" />
<rect x="235" y="442" width="11" height="20" fill="#000" />
<rect x="236" y="443" width="9" height="18" fill="#fff" />
<rect x="256" y="427" width="1" height="42" fill="#000" />
<rect x="251" y="442" width="11" height="15" fill="#000" />
<rect x="272" y="456" width="1" height="29" fill="#000" />
<rect x="267" y="456" width="11" height="2" fill="#000" />
<rect x="288" y="427" width="1" height="54" fill="#000" />
<rect x="283" y="458" width="11" height="4" fill="#000" />
<rect x="304" y="456" width="1" height="74" fill="#000" />
<rect x="299" y="463" width="11" height="62" fill="#000" />
<rect x="320" y="509" width="1" height="7" fill="#000" />
<rect x="315" y="510" width="11" height="4" fill="#000" />
<rect x="316" y="511" width="9" height="2" fill="#fff" />
<rect x="336" y="467" width="1" height="50" fill="#000" />
<rect x="331" y="478" width="11" height="32" fill="#000" />
<rect x="332" y="479" width="9" height="30" fill="#fff" />
<rect x="352" y="473" width="1" height="48" fill="#000" />
<rect x="347" y="478" width="11" height="26" fill="#000" />
<rect x="368" y="443" width="1" height="84" fill="#000" />
<rect x="363" y="455" width="11" height="48" fill="#000" />
<rect x="364" y="456" width="9" height="46" fill="#fff" />
<rect x="384" y="441" width="1" height="36" fill="#000" />
<rect x="379" y="455" width="11" height="13" fill="#000" />
<rect x="400" y="447" width="1" height="44" fill="#000" />
<rect x="395" y="451" width="11" height="18" fill="#000" />
<rect x="396" y="452" width="9" height="16" fill="#fff" />
<rect x="416" y="464" width="1" height="6" fill="#000" />
<rect x="411" y="467" width="11" height="1" fill="#000" />
<rect x="432" y="442" width="1" height="37" fill="#000" />
<rect x="427" y="448" width="11" height="20" fill="#000" />
<rect x="428" y="449" width="9" height="18" fill="#fff" />
<rect x="448" y="399" width="1" height="57" fill="#000" />
<rect x="443" y="408" width="11" height="40" fill="#000" />
<rect x="444" y="409" width="9" height="38" fill="#fff" />
<rect x="464" y="323" width="1" height="95" fill="#000" />
<rect x="459" y="331" width="11" height="77" fill="#000" />
<rect x="460" y="332" width="9" height="75" fill="#fff" />
<rect x="480" y="291" width="1" height="43" fill="#000" />
<rect x="475" y="298" width="11" height="33" fill="#000" />
<rect x="476" y="299" width="9" height="31" fill="#fff" />
<rect x="496" y="292" width="1" height="44" fill="#000" />
<rect x="491" y="297" width="11" height="15" fill="#000" />
<rect x="512" y="308" width="1" height="6" fill="#000" />
<rect x="507" y="310" width="11" height="4" fill="#000" />
<rect x="508" y="311" width="9" height="2" fill="#fff" />
<rect x="528" y="281" width="1" height="32" fill="#000" />
<rect x="523" y="306" width="11" height="5" fill="#000" />
<rect x="524" y="307" width="9" height="3" fill="#fff" />
<rect x="544" y="257" width="1" height="73" fill="#000" />
<rect x="539" y="305" width="11" height="13" fill="#000" />
<rect x="560" y="258" width="1" height="72" fill="#000" />
<rect x="555" y="268" width="11" height="50" fill="#000" />
<rect x="556" y="269" width="9" height="48" fill="#fff" />
<rect x="576" y="72" width="1" height="300" fill="#000" />
<rect x="571" y="78" width="11" height="190" fill="#000" />
<rect x="572" y="79" width="9" height="188" fill="#fff" />
<rect x="592" y="54" width="1" height="141" fill="#000" />
<rect x="587" y="79" width="11" height="94" fill="#000" />
<rect x="608" y="160" width="1" height="11" fill="#000" />
<rect x="603" y="161" width="11" height="10" fill="#000" />
<rect x="604" y="162" width="9" height="8" fill="#fff" />
<rect x="624" y="114" width="1" height="130" fill="#000" />
<rect x="619" y="162" width="11" height="60" fill="#000" />
<rect x="640" y="198" width="1" height="139" fill="#000" />
<rect x="635" y="219" width="11" height="104" fill="#000" />
<rect x="656" y="318" width="1" height="48" fill="#000" />
<rect x="651" y="322" width="11" height="27" fill="#000" />
<rect x="672" y="315" width="1" height="99" fill="#000" />
<rect x="667" y="348" width="11" height="46" fill="#000" />
<rect x="688" y="351" width="1" height="51" fill="#000" />
<rect x="683" y="395" width="11" height="2" fill="#000" />
<rect x="704" y="397" width="1" height="13" fill="#000" />
<rect x="699" y="402" width="11" height="7" fill="#000" />
<rect x="700" y="403" width="9" height="5" fill="#fff" />
<rect x="720" y="384" width="1" height="89" fill="#000" />
<rect x="715" y="402" width="11" height="45" fill="#000" />
<rect x="736" y="427" width="1" height="45" fill="#000" />
<rect x="731" y="446" width="11" height="9" fill="#000" />
<rect x="752" y="424" width="1" height="6" fill="#000" />
<rect x="747" y="427" width="11" height="1" fill="#000" />
<rect x="768" y="395" width="1" height="39" fill="#000" />
<rect x="763" y="406" width="11" height="21" fill="#000" />
<rect x="764" y="407" width="9" height="19" fill="#fff" />
<rect x="784" y="325" width="1" height="104" fill="#000" />
<rect x="779" y="341" width="11" height="64" fill="#000" />
<rect x="780" y="342" width="9" height="62" fill="#fff" />
<rect x="800" y="339" width="1" height="21" fill="#000" />
<rect x="795" y="344" width="11" height="16" fill="#000" />
<rect x="796" y="345" width="9" height="14" fill="#fff" />
<rect x="816" y="302" width="1" height="46" fill="#000" />
<rect x="811" y="329" width="11" height="15" fill="#000" />
<rect x="812" y="330" width="9" height="13" fill="#fff" />
<rect x="832" y="209" width="1" height="125" fill="#000" />
<rect x="827" y="235" width="11" height="94" fill="#000" />
<rect x="828" y="236" width="9" height="92" fill="#fff" />
<rect x="848" y="225" width="1" height="13" fill="#000" />
<rect x="843" y="234" width="11" height="3" fill="#000" />
<rect x="844" y="235" width="9" height="1" fill="#fff" />
<rect x="864" y="222" width="1" height="105" fill="#000" />
<rect x="859" y="233" width="11" height="71" fill="#000" />
<rect x="880" y="295" width="1" height="74" fill="#000" />
<rect x="875" y="306" width="11" height="46" fill="#000" />
<rect x="896" y="347" width="1" height="17" fill="#000" />
<rect x="891" y="353" width="11" height="8" fill="#000" />
<rect x="892" y="354" width="9" height="6" fill="#fff" />
<rect x="912" y="285" width="1" height="77" fill="#000" />
<rect x="907" y="288" width="11" height="65" fill="#000" />
<rect x="908" y="289" width="9" height="63" fill="#fff" />
<rect x="928" y="259" width="1" height="81" fill="#000" />
<rect x="923" y="288" width="11" height="40" fill="#000" />
<rect x="944" y="289" width="1" height="63" fill="#000" />
<rect x="939" y="327" width="11" height="7" fill="#000" />
<rect x="960" y="321" width="1" height="77" fill="#000" />
<rect x="955" y="333" width="11" height="26" fill="#000" />
<rect x="976" y="340" width="1" height="38" fill="#000" />
<rect x="971" y="358" width="11" height="7" fill="#000" />
<rect x="992" y="376" width="1" height="8" fill="#000" />
<rect x="987" y="376" width="11" height="6" fill="#000" />
<rect x="988" y="377" width="9" height="4" fill="#fff" />
<rect x="1008" y="375" width="1" height="59" fill="#000" />
<rect x="1003" y="377" width="11" height="40" fill="#000" />
<rect x="1024" y="383" width="1" height="56" fill="#000" />
<rect x="1019" y="392" width="11" height="24" fill="#000" />
<rect x="1020" y="393" width="9" height="22" fill="#fff" />
<rect x="1040" y="374" width="1" height="44" fill="#000" />
<rect x="1035" y="379" width="11" height="13" fill="#000" />
<rect x="1036" y="380" width="9" height="11" fill="#fff" />
<rect x="1056" y="349" width="1" height="40" fill="#000" />
<rect x="1051" y="353" width="11" height="26" fill="#000" />
<rect x="1052" y="354" width="9" height="24" fill="#fff" />
<rect x="1072" y="324" width="1" height="74" fill="#000" />
<rect x="1067" y="353" width="11" height="42" fill="#000" />
<rect x="1088" y="401" width="1" height="6" fill="#000" />
<rect x="1083" y="402" width="11" height="3" fill="#000" />
<rect x="1084" y="403" width="9" height="1" fill="#fff" />
<rect x="1104" y="397" width="1" height="36" fill="#000" />
<rect x="1099" y="402" width="11" height="2" fill="#000" />
<rect x="1120" y="348" width="1" height="62" fill="#000" />
<rect x="1115" y="375" width="11" height="28" fill="#000" />
<rect x="1116" y="376" width="9" height="26" fill="#fff" />
<rect x="1136" y="300" width="1" height="83" fill="#000" />
<rect x="1131" y="307" width="11" height="67" fill="#000" />
<rect x="1132" y="308" width="9" height="65" fill="#fff" />
<rect x="1152" y="301" width="1" height="39" fill="#000" />
<rect x="1147" y="306" width="11" height="19" fill="#000" />
<rect x="1168" y="286" width="1" height="82" fill="#000" />
<rect x="1163" y="324" width="11" height="28" fill="#000" />
<rect x="1184" y="353" width="1" height="12" fill="#000" />
<rect x="1179" y="355" width="11" height="10" fill="#000" />
<rect x="1200" y="334" width="1" height="46" fill="#000" />
<rect x="1195" y="364" width="11" height="2" fill="#000" />
<rect x="1216" y="361" width="1" height="63" fill="#000" />
<rect x="1211" y="365" width="11" height="26" fill="#000" />
<rect x="1232" y="387" width="1" height="27" fill="#000" />
<rect x="1227" y="390" width="11" height="3" fill="#000" />
<rect x="1248" y="330" width="1" height="93" fill="#000" />
<rect x="1243" y="347" width="11" height="45" fill="#000" />
<rect x="1244" y="348" width="9" height="43" fill="#fff" />
<rect x="1264" y="265" width="1" height="84" fill="#000" />
<rect x="1259" y="268" width="11" height="79" fill="#000" />
<rect x="1260" y="269" width="9" height="77" fill="#fff" />
<rect x="1280" y="279" width="1" height="5" fill="#000" />
<rect x="1275" y="281" width="11" height="2" fill="#000" />
<rect x="1296" y="279" width="1" height="140" fill="#000" />
<rect x="1291" y="281" width="11" height="129" fill="#000" />
<rect x="1312" y="374" width="1" height="74" fill="#000" />
<rect x="1307" y="385" width="11" height="24" fill="#000" />
<rect x="1308" y="386" width="9" height="22" fill="#fff" />
<rect x="1328" y="358" width="1" height="80" fill="#000" />
<rect x="1323" y="385" width="11" height="25" fill="#000" />
<rect x="1344" y="407" width="1" height="55" fill="#000" />
<rect x="1339" y="409" width="11" height="47" fill="#000" />
<rect x="1360" y="435" width="1" height="51" fill="#000" />
<rect x="1355" y="455" width="11" height="31" fill="#000" />
</g>
<rect x="1621" y="442" width="41" height="11" fill="#ff0000" shape-rendering="crispEdges"/>
<text x="1625.3" y="451" font-size="9.9" fill="#fff" text-anchor="start" font-weight="normal" textLength="33.2" lengthAdjust="spacingAndGlyphs" >1.29383</text>
<rect x="1621" y="454" width="41" height="11" fill="#ff4500" shape-rendering="crispEdges"/>
<text x="1625.3" y="463" font-size="9.9" fill="#fff" text-anchor="start" font-weight="normal" textLength="33.2" lengthAdjust="spacingAndGlyphs" >1.29210</text>
<rect x="1621" y="465" width="41" height="11" fill="#32cd32" shape-rendering="crispEdges"/>
<text x="1625.3" y="474" font-size="9.9" fill="#fff" text-anchor="start" font-weight="normal" textLength="33.2" lengthAdjust="spacingAndGlyphs" >1.29050</text>
<rect x="1621" y="480" width="41" height="11" fill="#000000" shape-rendering="crispEdges"/>
<text x="1625.3" y="489" font-size="9.9" fill="#fff" text-anchor="start" font-weight="normal" textLength="33.2" lengthAdjust="spacingAndGlyphs" >1.28858</text>
<rect x="1621" y="491" width="41" height="11" fill="#0000ff" shape-rendering="crispEdges"/>
<text x="1625.3" y="500" font-size="9.9" fill="#fff" text-anchor="start" font-weight="normal" textLength="33.2" lengthAdjust="spacingAndGlyphs" >1.28677</text>
<rect x="1621" y="503" width="41" height="11" fill="#0000ff" shape-rendering="crispEdges"/>
<text x="1625.3" y="512" font-size="9.9" fill="#fff" text-anchor="start" font-weight="normal" textLength="33.2" lengthAdjust="spacingAndGlyphs" >1.28503</text>
<text x="1424.4" y="438.4" font-size="31.6" fill="#002000" style="font-family:'Liberation Serif','Noto Serif CJK SC',serif" textLength="164.4" lengthAdjust="spacing">多空转折点</text>
<text x="1423.4" y="437.4" font-size="31.6" fill="#00ff00" style="font-family:'Liberation Serif','Noto Serif CJK SC',serif" textLength="164.4" lengthAdjust="spacing">多空转折点</text>
<rect x="1425" y="471" width="10" height="1" fill="#ff0000" />
<rect x="1431.5" y="469.5" width="3" height="3" fill="#fff" stroke="#f00" shape-rendering="crispEdges"/>
<rect x="1435.5" y="459.5" width="73" height="24" fill="#fff" stroke="#f00" shape-rendering="crispEdges"/>
<text x="1437" y="479.3" font-size="20.5" fill="#ff0000" text-anchor="start" font-weight="normal" textLength="70" lengthAdjust="spacingAndGlyphs" >1.29050</text>
<rect x="1387" y="28" width="9" height="1" fill="#c0c0c0" shape-rendering="crispEdges"/>
<rect x="1388" y="29" width="7" height="1" fill="#c0c0c0" shape-rendering="crispEdges"/>
<rect x="1389" y="30" width="5" height="1" fill="#c0c0c0" shape-rendering="crispEdges"/>
<rect x="1390" y="31" width="3" height="1" fill="#c0c0c0" shape-rendering="crispEdges"/>
<rect x="1391" y="32" width="1" height="1" fill="#c0c0c0" shape-rendering="crispEdges"/>
<path d="M2.8,38.4 L10.2,38.4 L6.5,33.8 Z" fill="#000"/>
<text x="15" y="39" font-size="9.9" fill="#000" text-anchor="start" font-weight="normal" textLength="66.8" lengthAdjust="spacingAndGlyphs" >GBPUSD-,Daily</text>
<text x="88" y="39" font-size="9.9" fill="#000" text-anchor="start" font-weight="normal" textLength="141" lengthAdjust="spacingAndGlyphs" >1.29284 1.29580 1.28857 1.28858</text>
<g shape-rendering="crispEdges">
<rect x="-1" y="606" width="2" height="113" fill="#b8b8b8" />
<rect x="15" y="608" width="2" height="111" fill="#b8b8b8" />
<rect x="31" y="610" width="2" height="109" fill="#b8b8b8" />
<rect x="47" y="617" width="2" height="102" fill="#b8b8b8" />
<rect x="63" y="624" width="2" height="95" fill="#b8b8b8" />
<rect x="79" y="633" width="2" height="86" fill="#b8b8b8" />
<rect x="95" y="643" width="2" height="76" fill="#b8b8b8" />
<rect x="111" y="655" width="2" height="64" fill="#b8b8b8" />
<rect x="127" y="664" width="2" height="55" fill="#b8b8b8" />
<rect x="143" y="667" width="2" height="52" fill="#b8b8b8" />
<rect x="159" y="671" width="2" height="48" fill="#b8b8b8" />
<rect x="175" y="674" width="2" height="45" fill="#b8b8b8" />
<rect x="191" y="674" width="2" height="45" fill="#b8b8b8" />
<rect x="207" y="674" width="2" height="45" fill="#b8b8b8" />
<rect x="223" y="673" width="2" height="46" fill="#b8b8b8" />
<rect x="239" y="670" width="2" height="49" fill="#b8b8b8" />
<rect x="255" y="671" width="2" height="48" fill="#b8b8b8" />
<rect x="271" y="672" width="2" height="47" fill="#b8b8b8" />
<rect x="287" y="672" width="2" height="47" fill="#b8b8b8" />
<rect x="303" y="682" width="2" height="37" fill="#b8b8b8" />
<rect x="319" y="687" width="2" height="32" fill="#b8b8b8" />
<rect x="335" y="688" width="2" height="31" fill="#b8b8b8" />
<rect x="351" y="692" width="2" height="27" fill="#b8b8b8" />
<rect x="367" y="691" width="2" height="28" fill="#b8b8b8" />
<rect x="383" y="691" width="2" height="28" fill="#b8b8b8" />
<rect x="399" y="690" width="2" height="29" fill="#b8b8b8" />
<rect x="415" y="691" width="2" height="28" fill="#b8b8b8" />
<rect x="431" y="690" width="2" height="29" fill="#b8b8b8" />
<rect x="447" y="686" width="2" height="33" fill="#b8b8b8" />
<rect x="463" y="674" width="2" height="45" fill="#b8b8b8" />
<rect x="479" y="662" width="2" height="57" fill="#b8b8b8" />
<rect x="495" y="655" width="2" height="64" fill="#b8b8b8" />
<rect x="511" y="650" width="2" height="69" fill="#b8b8b8" />
<rect x="527" y="646" width="2" height="73" fill="#b8b8b8" />
<rect x="543" y="645" width="2" height="74" fill="#b8b8b8" />
<rect x="559" y="640" width="2" height="79" fill="#b8b8b8" />
<rect x="575" y="617" width="2" height="102" fill="#b8b8b8" />
<rect x="591" y="610" width="2" height="109" fill="#b8b8b8" />
<rect x="607" y="604" width="2" height="115" fill="#b8b8b8" />
<rect x="623" y="608" width="2" height="111" fill="#b8b8b8" />
<rect x="639" y="622" width="2" height="97" fill="#b8b8b8" />
<rect x="655" y="638" width="2" height="81" fill="#b8b8b8" />
<rect x="671" y="656" width="2" height="63" fill="#b8b8b8" />
<rect x="687" y="671" width="2" height="48" fill="#b8b8b8" />
<rect x="703" y="684" width="2" height="35" fill="#b8b8b8" />
<rect x="719" y="699" width="2" height="20" fill="#b8b8b8" />
<rect x="735" y="712" width="2" height="7" fill="#b8b8b8" />
<rect x="751" y="719" width="2" height="1" fill="#b8b8b8" />
<rect x="767" y="719" width="2" height="5" fill="#b8b8b8" />
<rect x="783" y="719" width="2" height="1" fill="#b8b8b8" />
<rect x="799" y="716" width="2" height="3" fill="#b8b8b8" />
<rect x="815" y="712" width="2" height="7" fill="#b8b8b8" />
<rect x="831" y="699" width="2" height="20" fill="#b8b8b8" />
<rect x="847" y="689" width="2" height="30" fill="#b8b8b8" />
<rect x="863" y="689" width="2" height="30" fill="#b8b8b8" />
<rect x="879" y="694" width="2" height="25" fill="#b8b8b8" />
<rect x="895" y="699" width="2" height="20" fill="#b8b8b8" />
<rect x="911" y="696" width="2" height="23" fill="#b8b8b8" />
<rect x="927" y="698" width="2" height="21" fill="#b8b8b8" />
<rect x="943" y="700" width="2" height="19" fill="#b8b8b8" />
<rect x="959" y="705" width="2" height="14" fill="#b8b8b8" />
<rect x="975" y="710" width="2" height="9" fill="#b8b8b8" />
<rect x="991" y="715" width="2" height="4" fill="#b8b8b8" />
<rect x="1007" y="719" width="2" height="5" fill="#b8b8b8" />
<rect x="1023" y="719" width="2" height="9" fill="#b8b8b8" />
<rect x="1039" y="719" width="2" height="10" fill="#b8b8b8" />
<rect x="1055" y="719" width="2" height="9" fill="#b8b8b8" />
<rect x="1071" y="719" width="2" height="12" fill="#b8b8b8" />
<rect x="1087" y="719" width="2" height="15" fill="#b8b8b8" />
<rect x="1103" y="719" width="2" height="17" fill="#b8b8b8" />
<rect x="1119" y="719" width="2" height="16" fill="#b8b8b8" />
<rect x="1135" y="719" width="2" height="7" fill="#b8b8b8" />
<rect x="1151" y="719" width="2" height="1" fill="#b8b8b8" />
<rect x="1167" y="719" width="2" height="1" fill="#b8b8b8" />
<rect x="1183" y="719" width="2" height="1" fill="#b8b8b8" />
<rect x="1199" y="719" width="2" height="3" fill="#b8b8b8" />
<rect x="1215" y="719" width="2" height="6" fill="#b8b8b8" />
<rect x="1231" y="719" width="2" height="7" fill="#b8b8b8" />
<rect x="1247" y="719" width="2" height="6" fill="#b8b8b8" />
<rect x="1263" y="713" width="2" height="6" fill="#b8b8b8" />
<rect x="1279" y="706" width="2" height="13" fill="#b8b8b8" />
<rect x="1295" y="714" width="2" height="5" fill="#b8b8b8" />
<rect x="1311" y="718" width="2" height="1" fill="#b8b8b8" />
<rect x="1327" y="719" width="2" height="6" fill="#b8b8b8" />
<rect x="1343" y="719" width="2" height="15" fill="#b8b8b8" />
<rect x="1359" y="719" width="2" height="26" fill="#b8b8b8" />
</g>
<polyline points="0.5,592.4 16.5,594.0 32.5,598.5 48.5,603.5 64.5,607.9 80.5,612.0 96.5,617.6 112.5,623.7 128.5,629.7 144.5,637.1 160.5,643.2 176.5,650.0 192.5,656.0 208.5,662.0 224.5,666.4 240.5,669.7 256.5,671.4 272.5,672.4 288.5,672.4 304.5,674.1 320.5,675.8 336.5,677.8 352.5,679.5 368.5,681.2 384.5,683.2 400.5,685.5 416.5,687.6 432.5,689.6 448.5,690.3 464.5,688.6 480.5,685.9 496.5,681.5 512.5,677.5 528.5,672.4 544.5,668.0 560.5,661.3 576.5,653.3 592.5,644.5 608.5,637.8 624.5,631.1 640.5,627.4 656.5,626.0 672.5,627.4 688.5,629.4 704.5,633.8 720.5,642.2 736.5,654.6 752.5,666.7 768.5,679.5 784.5,690.9 800.5,700.0 816.5,705.7 832.5,708.7 848.5,710.4 864.5,709.4 880.5,707.7 896.5,704.4 912.5,701.7 928.5,699.3 944.5,697.6 960.5,697.3 976.5,698.3 992.5,701.7 1008.5,704.0 1024.5,708.0 1040.5,711.4 1056.5,715.1 1072.5,717.8 1088.5,721.8 1104.5,725.3 1120.5,727.7 1136.5,729.5 1152.5,729.5 1168.5,728.0 1184.5,727.4 1200.5,726.3 1216.5,726.0 1232.5,725.3 1248.5,724.2 1264.5,721.4 1280.5,719.6 1296.5,719.3 1312.5,718.2 1328.5,719.6 1344.5,720.3 1360.5,722.8" fill="none" stroke="#ff0000" stroke-width="1" shape-rendering="crispEdges" stroke-dasharray="3,3"/>
<text x="4.5" y="595.4" font-size="9.9" fill="#000" text-anchor="start" font-weight="normal" textLength="153.5" lengthAdjust="spacingAndGlyphs" >MACD(12,26,9) -0.002645 -0.000348</text>
<text x="1623.5" y="593" font-size="9.9" fill="#000" text-anchor="start" font-weight="normal" textLength="37.5" lengthAdjust="spacingAndGlyphs" >0.014611</text>
<text x="1623.5" y="723" font-size="9.9" fill="#000" text-anchor="start" font-weight="normal" textLength="17.5" lengthAdjust="spacingAndGlyphs" >0.00</text>
<text x="1623.3" y="749" font-size="9.9" fill="#000" text-anchor="start" font-weight="normal" textLength="40.6" lengthAdjust="spacingAndGlyphs" >-0.003466</text>
<line x1="1" y1="790.5" x2="1619" y2="790.5" stroke="#c0c0c0" stroke-width="1" stroke-dasharray="3,3" shape-rendering="crispEdges"/>
<line x1="1" y1="841.5" x2="1619" y2="841.5" stroke="#c0c0c0" stroke-width="1" stroke-dasharray="3,3" shape-rendering="crispEdges"/>
<line x1="1" y1="902.5" x2="1619" y2="902.5" stroke="#c0c0c0" stroke-width="1" stroke-dasharray="3,3" shape-rendering="crispEdges"/>
<polyline points="0.5,811.2 16.5,812.2 32.5,812.2 48.5,820.9 64.5,823.3 80.5,827.3 96.5,834.0 112.5,840.1 128.5,838.1 144.5,829.3 160.5,830.7 176.5,829.3 192.5,825.3 208.5,821.9 224.5,819.2 240.5,815.2 256.5,819.9 272.5,821.3 288.5,822.9 304.5,844.1 320.5,840.1 336.5,831.3 352.5,839.1 368.5,827.3 384.5,831.3 400.5,827.3 416.5,832.0 432.5,828.0 448.5,819.2 464.5,806.1 480.5,801.4 496.5,806.5 512.5,806.5 528.5,804.8 544.5,810.2 560.5,802.1 576.5,784.3 592.5,808.5 608.5,807.1 624.5,820.9 640.5,838.1 656.5,842.1 672.5,848.2 688.5,848.2 704.5,849.5 720.5,856.2 736.5,857.6 752.5,851.2 768.5,847.5 784.5,835.4 800.5,836.4 816.5,834.4 832.5,819.2 848.5,819.2 864.5,834.0 880.5,842.1 896.5,842.1 912.5,832.4 928.5,839.1 944.5,840.4 960.5,844.1 976.5,845.5 992.5,848.5 1008.5,855.5 1024.5,849.5 1040.5,847.5 1056.5,841.1 1072.5,849.2 1088.5,851.2 1104.5,851.3 1120.5,844.3 1136.5,829.5 1152.5,834.4 1168.5,840.4 1184.5,843.2 1200.5,843.2 1216.5,849.2 1232.5,849.2 1248.5,837.9 1264.5,822.1 1280.5,824.9 1296.5,852.4 1312.5,847.4 1328.5,851.3 1344.5,858.3 1360.5,863.3" fill="none" stroke="#1e90ff" stroke-width="1" shape-rendering="crispEdges" />
<text x="4.5" y="767.3" font-size="9.9" fill="#000" text-anchor="start" font-weight="normal" textLength="67.5" lengthAdjust="spacingAndGlyphs" >RSI(14) 37.7296</text>
<text x="1623.3" y="765.1" font-size="9.9" fill="#000" text-anchor="start" font-weight="normal" textLength="14.399999999999999" lengthAdjust="spacingAndGlyphs" >100</text>
<text x="1623.3" y="794.3" font-size="9.9" fill="#000" text-anchor="start" font-weight="normal" textLength="9.6" lengthAdjust="spacingAndGlyphs" >80</text>
<text x="1623.3" y="845.3" font-size="9.9" fill="#000" text-anchor="start" font-weight="normal" textLength="9.6" lengthAdjust="spacingAndGlyphs" >50</text>
<text x="1623.3" y="906.2" font-size="9.9" fill="#000" text-anchor="start" font-weight="normal" textLength="9.6" lengthAdjust="spacingAndGlyphs" >15</text>
<text x="1623.3" y="925.1" font-size="9.9" fill="#000" text-anchor="start" font-weight="normal" textLength="4.8" lengthAdjust="spacingAndGlyphs" >0</text>
<g shape-rendering="crispEdges">
<rect x="0" y="929" width="1" height="3" fill="#000" />
<rect x="64" y="929" width="1" height="3" fill="#000" />
<rect x="128" y="929" width="1" height="3" fill="#000" />
<rect x="192" y="929" width="1" height="3" fill="#000" />
<rect x="256" y="929" width="1" height="3" fill="#000" />
<rect x="320" y="929" width="1" height="3" fill="#000" />
<rect x="384" y="929" width="1" height="3" fill="#000" />
<rect x="448" y="929" width="1" height="3" fill="#000" />
<rect x="512" y="929" width="1" height="3" fill="#000" />
<rect x="576" y="929" width="1" height="3" fill="#000" />
<rect x="640" y="929" width="1" height="3" fill="#000" />
<rect x="704" y="929" width="1" height="3" fill="#000" />
<rect x="768" y="929" width="1" height="3" fill="#000" />
<rect x="832" y="929" width="1" height="3" fill="#000" />
<rect x="896" y="929" width="1" height="3" fill="#000" />
<rect x="960" y="929" width="1" height="3" fill="#000" />
<rect x="1024" y="929" width="1" height="3" fill="#000" />
<rect x="1088" y="929" width="1" height="3" fill="#000" />
<rect x="1152" y="929" width="1" height="3" fill="#000" />
<rect x="1216" y="929" width="1" height="3" fill="#000" />
<rect x="1280" y="929" width="1" height="3" fill="#000" />
<rect x="1344" y="929" width="1" height="3" fill="#000" />
</g>
<text x="-1.1" y="941" font-size="9.9" fill="#000" text-anchor="start" font-weight="normal" textLength="51.2" lengthAdjust="spacingAndGlyphs" >31 Oct 2019</text>
<text x="62.9" y="941" font-size="9.9" fill="#000" text-anchor="start" font-weight="normal" textLength="49.2" lengthAdjust="spacingAndGlyphs" >5 Nov 2019</text>
<text x="126.9" y="941" font-size="9.9" fill="#000" text-anchor="start" font-weight="normal" textLength="54.6" lengthAdjust="spacingAndGlyphs" >10 Nov 2019</text>
<text x="190.9" y="941" font-size="9.9" fill="#000" text-anchor="start" font-weight="normal" textLength="54.6" lengthAdjust="spacingAndGlyphs" >14 Nov 2019</text>
<text x="254.9" y="941" font-size="9.9" fill="#000" text-anchor="start" font-weight="normal" textLength="54.6" lengthAdjust="spacingAndGlyphs" >19 Nov 2019</text>
<text x="318.9" y="941" font-size="9.9" fill="#000" text-anchor="start" font-weight="normal" textLength="54.6" lengthAdjust="spacingAndGlyphs" >24 Nov 2019</text>
<text x="382.9" y="941" font-size="9.9" fill="#000" text-anchor="start" font-weight="normal" textLength="54.6" lengthAdjust="spacingAndGlyphs" >28 Nov 2019</text>
<text x="446.9" y="941" font-size="9.9" fill="#000" text-anchor="start" font-weight="normal" textLength="47.3" lengthAdjust="spacingAndGlyphs" >3 Dec 2019</text>
<text x="510.9" y="941" font-size="9.9" fill="#000" text-anchor="start" font-weight="normal" textLength="47.3" lengthAdjust="spacingAndGlyphs" >8 Dec 2019</text>
<text x="574.9" y="941" font-size="9.9" fill="#000" text-anchor="start" font-weight="normal" textLength="52.4" lengthAdjust="spacingAndGlyphs" >12 Dec 2019</text>
<text x="638.9" y="941" font-size="9.9" fill="#000" text-anchor="start" font-weight="normal" textLength="52.4" lengthAdjust="spacingAndGlyphs" >17 Dec 2019</text>
<text x="702.9" y="941" font-size="9.9" fill="#000" text-anchor="start" font-weight="normal" textLength="52.4" lengthAdjust="spacingAndGlyphs" >22 Dec 2019</text>
<text x="766.9" y="941" font-size="9.9" fill="#000" text-anchor="start" font-weight="normal" textLength="52.4" lengthAdjust="spacingAndGlyphs" >26 Dec 2019</text>
<text x="830.9" y="941" font-size="9.9" fill="#000" text-anchor="start" font-weight="normal" textLength="52.4" lengthAdjust="spacingAndGlyphs" >31 Dec 2019</text>
<text x="894.9" y="941" font-size="9.9" fill="#000" text-anchor="start" font-weight="normal" textLength="45.9" lengthAdjust="spacingAndGlyphs" >5 Jan 2020</text>
<text x="958.9" y="941" font-size="9.9" fill="#000" text-anchor="start" font-weight="normal" textLength="45.9" lengthAdjust="spacingAndGlyphs" >9 Jan 2020</text>
<text x="1022.9" y="941" font-size="9.9" fill="#000" text-anchor="start" font-weight="normal" textLength="51.0" lengthAdjust="spacingAndGlyphs" >14 Jan 2020</text>
<text x="1086.9" y="941" font-size="9.9" fill="#000" text-anchor="start" font-weight="normal" textLength="51.0" lengthAdjust="spacingAndGlyphs" >19 Jan 2020</text>
<text x="1150.9" y="941" font-size="9.9" fill="#000" text-anchor="start" font-weight="normal" textLength="51.0" lengthAdjust="spacingAndGlyphs" >23 Jan 2020</text>
<text x="1214.9" y="941" font-size="9.9" fill="#000" text-anchor="start" font-weight="normal" textLength="51.0" lengthAdjust="spacingAndGlyphs" >28 Jan 2020</text>
<text x="1278.9" y="941" font-size="9.9" fill="#000" text-anchor="start" font-weight="normal" textLength="47.4" lengthAdjust="spacingAndGlyphs" >2 Feb 2020</text>
<text x="1342.9" y="941" font-size="9.9" fill="#000" text-anchor="start" font-weight="normal" textLength="47.4" lengthAdjust="spacingAndGlyphs" >6 Feb 2020</text>
<g shape-rendering="crispEdges">
<rect x="3" y="47" width="52" height="25" fill="url(#gTab)"/>
<rect x="3" y="71" width="109" height="40" fill="url(#gLow)"/>
<rect x="170" y="47" width="52" height="25" fill="url(#gTab)"/>
<rect x="114" y="71" width="108" height="40" fill="url(#gLow)"/>
<rect x="7" y="71" width="44" height="1" fill="#f28c8c"/>
<rect x="174" y="71" width="44" height="1" fill="#f28c8c"/>
<rect x="57.5" y="47.5" width="111" height="21" fill="#fff" stroke="#b9b9b9"/>
<rect x="58.5" y="48.5" width="19" height="19" fill="url(#gBtn)" stroke="#c9c9c9"/>
<rect x="147.5" y="48.5" width="19" height="19" fill="url(#gBtn)" stroke="#c9c9c9"/>
</g>
<path d="M64.7,55.8 L70.3,55.8 L67.5,59 Z" fill="#4a5fc0"/>
<path d="M153.7,59 L159.3,59 L156.5,55.8 Z" fill="#4a5fc0"/>
<text x="142.5" y="62.3" font-size="12.2" text-anchor="end" fill="#111" textLength="24" lengthAdjust="spacingAndGlyphs">1.00</text>
<text x="15.5" y="62.8" font-size="12" fill="#fff" textLength="25.5" lengthAdjust="spacingAndGlyphs">SELL</text>
<text x="183.6" y="62.8" font-size="12" fill="#fff" textLength="23" lengthAdjust="spacingAndGlyphs">BUY</text>
<text x="23.5" y="101.4" font-size="10.6" font-weight="bold" fill="#fff" textLength="23.2" lengthAdjust="spacingAndGlyphs">1.28</text>
<text x="51" y="101.4" font-size="31.6" fill="#fff" stroke="url(#gLowU)" stroke-width="0.8" textLength="33.5" lengthAdjust="spacingAndGlyphs">85</text>
<text x="90.2" y="85.3" font-size="10.8" font-weight="bold" fill="#fff">8</text>
<text x="133.6" y="101.4" font-size="10.6" font-weight="bold" fill="#fff" textLength="23.2" lengthAdjust="spacingAndGlyphs">1.28</text>
<text x="162.2" y="101.4" font-size="31.6" fill="#fff" stroke="url(#gLowU)" stroke-width="0.8" textLength="33.8" lengthAdjust="spacingAndGlyphs">88</text>
<text x="201.2" y="85.3" font-size="10.8" font-weight="bold" fill="#fff">0</text>
</svg>
</body></html>
